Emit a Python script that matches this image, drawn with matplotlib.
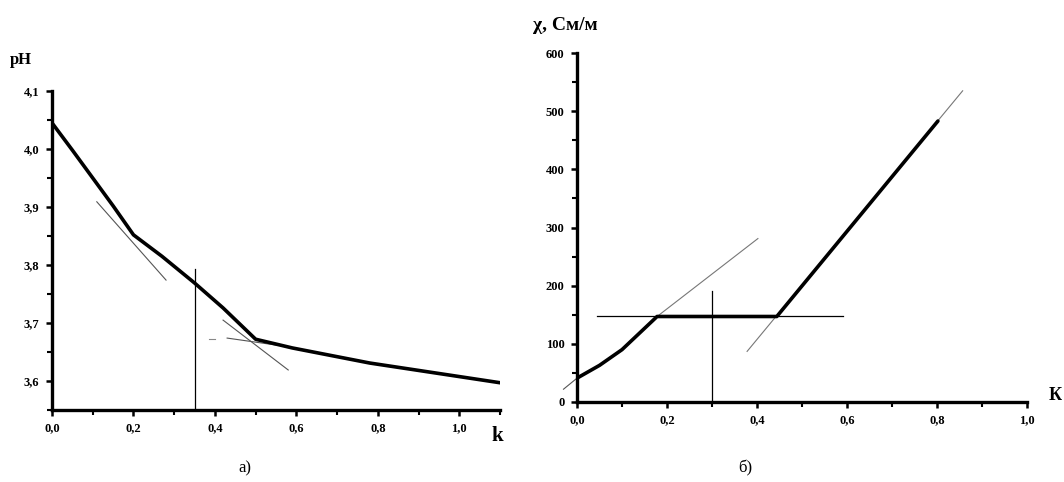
import matplotlib
matplotlib.use("Agg")
import matplotlib.pyplot as plt
from matplotlib.ticker import MultipleLocator, FuncFormatter

plt.rcParams['font.family'] = ['Liberation Serif', 'DejaVu Serif']

# ---- panel a) pH vs k ----
ph_k = [0.0, 0.05, 0.10, 0.15, 0.20, 0.27, 0.35, 0.42, 0.50, 0.59, 0.78, 1.10]
ph_v = [4.045, 3.998, 3.950, 3.902, 3.852, 3.815, 3.769, 3.726, 3.672, 3.657, 3.631, 3.597]
ph_tan1_k = [0.11, 0.28]
ph_tan1_v = [3.909, 3.774]
ph_tan2_k = [0.42, 0.58]
ph_tan2_v = [3.705, 3.619]
ph_tan3_k = [0.43, 0.55]
ph_tan3_v = [3.674, 3.662]
ph_dash_k = [0.385, 0.40]
ph_dash_v = [3.673, 3.673]
ph_vert_k = [0.35, 0.35]
ph_vert_v = [3.55, 3.793]
ph_xticks = [0.0, 0.2, 0.4, 0.6, 0.8, 1.0]
ph_yticks = [3.6, 3.7, 3.8, 3.9, 4.0, 4.1]

# ---- panel б) conductivity vs k ----
ch_k = [0.0, 0.05, 0.10, 0.178, 0.30, 0.444, 0.802]
ch_v = [41, 63, 90, 147, 147, 147, 483]
ch_ext_k = [-0.03, 0.0]
ch_ext_v = [22, 41]
ch_tan1_k = [0.178, 0.402]
ch_tan1_v = [147, 281]
ch_tan2_k = [0.378, 0.857]
ch_tan2_v = [87, 535]
ch_hor_k = [0.044, 0.591]
ch_hor_v = [147, 147]
ch_vert_k = [0.30, 0.30]
ch_vert_v = [0, 191]
ch_xticks = [0.0, 0.2, 0.4, 0.6, 0.8, 1.0]
ch_yticks = [0, 100, 200, 300, 400, 500, 600]

W, H = 1064, 482
fig = plt.figure(figsize=(W / 100, H / 100), dpi=100)

def comma(fmt):
    return FuncFormatter(lambda v, p: (fmt % v).replace('.', ','))

def style(ax, xminor, yminor):
    for s in ('top', 'right'):
        ax.spines[s].set_visible(False)
    for s in ('left', 'bottom'):
        ax.spines[s].set_linewidth(2.4)
    ax.tick_params(which='major', direction='out', length=4, width=1.8,
                   labelsize=9, pad=5)
    ax.tick_params(which='minor', direction='out', length=3.5, width=1.5)
    ax.xaxis.set_minor_locator(MultipleLocator(xminor))
    ax.yaxis.set_minor_locator(MultipleLocator(yminor))

# Left axes
ax1 = fig.add_axes([52 / W, 1 - 410 / H, 448 / W, (410 - 91) / H])
ax1.set_xlim(0, 1.1)
ax1.set_ylim(3.55, 4.1)
ax1.set_xticks(ph_xticks)
ax1.set_yticks(ph_yticks)
ax1.xaxis.set_major_formatter(comma('%.1f'))
ax1.yaxis.set_major_formatter(comma('%.1f'))
style(ax1, 0.1, 0.05)
ax1.plot(ph_k, ph_v, color='black', lw=2.6, solid_capstyle='round', zorder=3)
ax1.plot(ph_tan1_k, ph_tan1_v, color='#555555', lw=0.8)
ax1.plot(ph_tan2_k, ph_tan2_v, color='#555555', lw=0.8)
ax1.plot(ph_tan3_k, ph_tan3_v, color='#555555', lw=0.8)
ax1.plot(ph_dash_k, ph_dash_v, color='#888888', lw=0.8)
ax1.plot(ph_vert_k, ph_vert_v, color='black', lw=0.9)
for lab in ax1.get_xticklabels() + ax1.get_yticklabels():
    lab.set_fontweight('bold')
fig.text(10 / W, 1 - 60 / H, 'pH', fontsize=12, fontweight='bold', va='center')
fig.text(491 / W, 1 - 436 / H, 'k', fontsize=15, fontweight='bold', va='center')
fig.text(245 / W, 1 - 468 / H, 'а)', fontsize=12, ha='center', va='center')

# Right axes
ax2 = fig.add_axes([577 / W, 1 - 402 / H, 450 / W, (402 - 53) / H])
ax2.set_xlim(0, 1.0)
ax2.set_ylim(0, 600)
ax2.set_xticks(ch_xticks)
ax2.set_yticks(ch_yticks)
ax2.xaxis.set_major_formatter(comma('%.1f'))
ax2.yaxis.set_major_formatter(FuncFormatter(lambda v, p: '%d' % v))
style(ax2, 0.1, 50)
ax2.plot(ch_k, ch_v, color='black', lw=2.6, solid_capstyle='round', zorder=3)
ax2.plot(ch_ext_k, ch_ext_v, color='#555555', lw=0.8, clip_on=False)
ax2.plot(ch_tan1_k, ch_tan1_v, color='#777777', lw=0.8)
ax2.plot(ch_tan2_k, ch_tan2_v, color='#777777', lw=0.8)
ax2.plot(ch_hor_k, ch_hor_v, color='black', lw=0.9)
ax2.plot(ch_vert_k, ch_vert_v, color='black', lw=0.9)
for lab in ax2.get_xticklabels() + ax2.get_yticklabels():
    lab.set_fontweight('bold')
fig.text(533 / W, 1 - 25 / H, 'χ, См/м', fontsize=14, fontweight='bold', va='center')
fig.text(1049 / W, 1 - 396 / H, 'К', fontsize=13, fontweight='bold', va='center')
fig.text(745 / W, 1 - 468 / H, 'б)', fontsize=12, ha='center', va='center')

fig.savefig('out.png', dpi=100)
